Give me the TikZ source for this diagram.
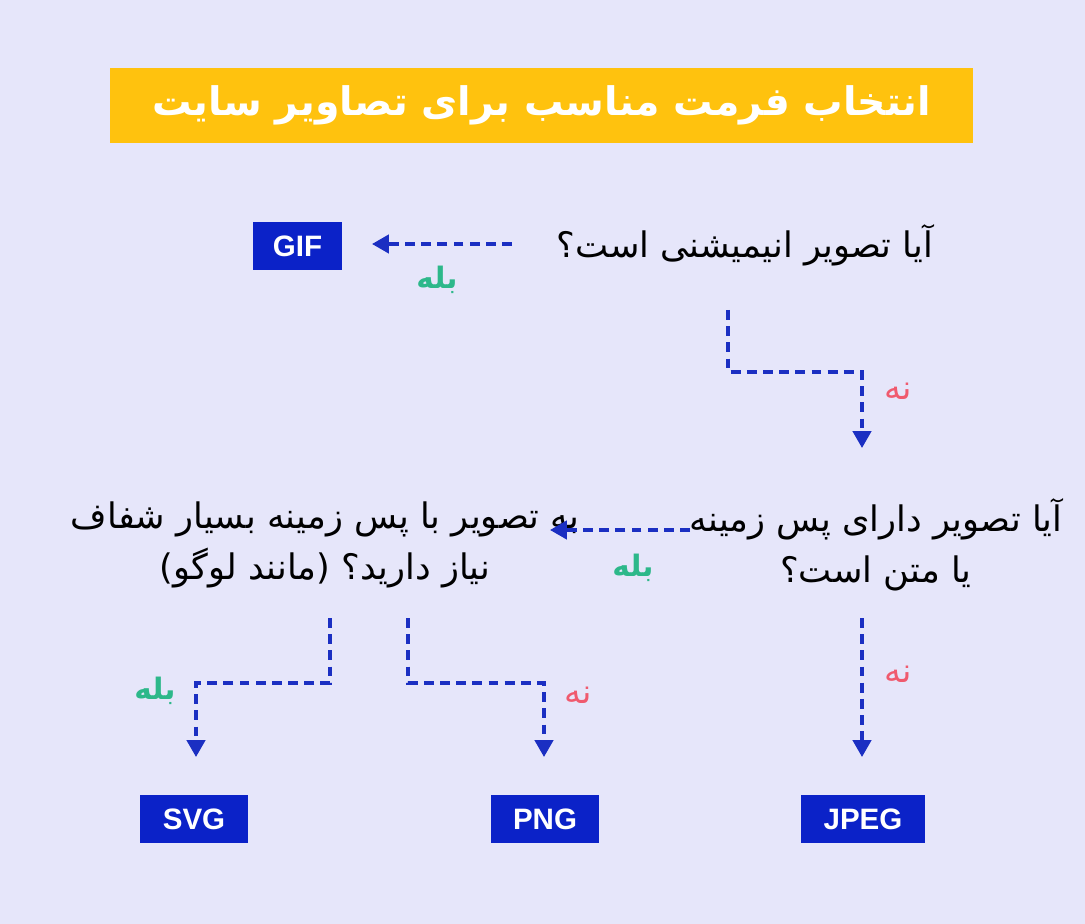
\documentclass[tikz,border=0pt]{standalone}
\usepackage{fontspec}
\setmainfont{Liberation Sans}
\newfontfamily\arabicfont[Script=Arabic]{DejaVu Sans}
\TeXXeTstate=1
\usetikzlibrary{arrows.meta,positioning}
\definecolor{bgcol}{HTML}{E6E6FA}
\definecolor{titlecol}{HTML}{FFC20E}
\definecolor{boxcol}{HTML}{0B22C8}
\definecolor{arrcol}{HTML}{1B2FC2}
\definecolor{yescol}{HTML}{2DB88A}
\definecolor{nocol}{HTML}{F05A6E}
\tikzset{
  fmtbox/.style={fill=boxcol,text=white,font=\fontsize{21}{24}\selectfont\bfseries,minimum width=2.2cm,minimum height=1.2cm,inner sep=0pt},
  question/.style={font=\arabicfont\fontsize{25}{36}\selectfont,align=center,inner sep=0pt},
  flow/.style={arrcol,line width=2.4pt,dash pattern=on 7pt off 4.5pt,-{Triangle[width=13pt,length=12pt]}},
  yeslbl/.style={text=yescol,font=\arabicfont\bfseries\fontsize{21}{24}\selectfont},
  nolbl/.style={text=nocol,font=\arabicfont\fontsize{24}{28}\selectfont}
}
\begin{document}
\begin{tikzpicture}[x=0.025cm,y=-0.025cm]
    \fill[bgcol] (0,0) rectangle (1085,924);
    \useasboundingbox (0,0) rectangle (1085,924);
    % title
    \node (title) at (541.5,105.5) [fill=titlecol,minimum width=21.575cm,minimum height=1.875cm,text=white,font=\arabicfont\bfseries\fontsize{28}{32}\selectfont] {\beginR انتخاب فرمت مناسب برای تصاویر سایت\endR};
    % questions
    \node (q1) at (745,245) [question] {\beginR آیا تصویر انیمیشنی است؟\endR};
    \node (q2) at (876,545) [question] {\beginR آیا تصویر دارای پس زمینه\endR\\\beginR یا متن است؟\endR};
    \node (q3) at (325,545) [question] {\beginR به تصویر با پس زمینه بسیار شفاف\endR\\\beginR نیاز دارید؟ (مانند لوگو)\endR};
    % formats
    \node (gif) at (297.5,246) [fmtbox] {GIF};
    \node (svg) at (194,819) [fmtbox,minimum width=2.7cm] {SVG};
    \node (png) at (545,819) [fmtbox,minimum width=2.7cm] {PNG};
    \node (jpeg) at (863,819) [fmtbox,minimum width=3.1cm] {JPEG};
    % connector ends
    \coordinate (a1s) at (512,244);
    \coordinate (a1e) at (372,244);
    \coordinate (a2s) at (728,310);
    \coordinate (a2e) at (862,448);
    \coordinate (a3s) at (690,530);
    \coordinate (a3e) at (550,530);
    \coordinate (a4s) at (330,618);
    \coordinate (a4e) at (196,757);
    \coordinate (a5s) at (408,618);
    \coordinate (a5e) at (544,757);
    \coordinate (a6s) at (862,618);
    \coordinate (a6e) at (862,757);
    \draw[flow] (a1s) -- (a1e);
    \draw[flow] (a2s) |- (862,372) -- (a2e);
    \draw[flow] (a3s) -- (a3e);
    \draw[flow] (a4s) |- (196,683) -- (a4e);
    \draw[flow] (a5s) |- (544,683) -- (a5e);
    \draw[flow] (a6s) -- (a6e);
    % labels
    \node (y1) at (437,280) [yeslbl] {\beginR بله\endR};
    \node (n1) at (898,391) [nolbl] {\beginR نه\endR};
    \node (y2) at (633,568) [yeslbl] {\beginR بله\endR};
    \node (y3) at (155,691) [yeslbl] {\beginR بله\endR};
    \node (n2) at (578,695) [nolbl] {\beginR نه\endR};
    \node (n3) at (898,674) [nolbl] {\beginR نه\endR};
\end{tikzpicture}
\end{document}
